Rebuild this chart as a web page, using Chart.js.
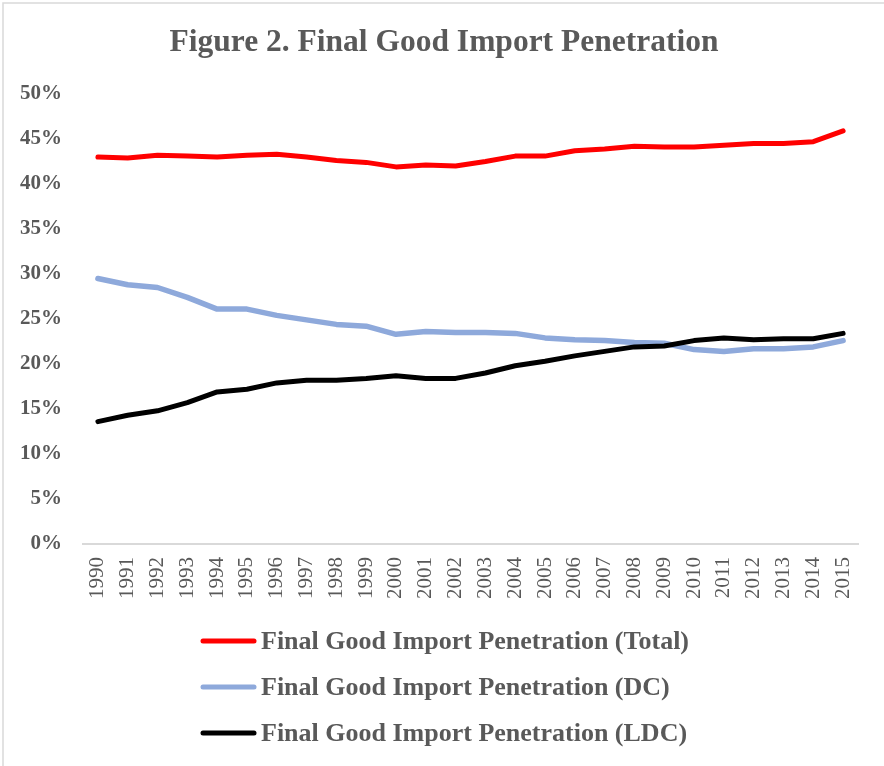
<!DOCTYPE html>
<html>
<head>
<meta charset="utf-8">
<script src="https://cdn.jsdelivr.net/npm/chart.js@4.4.1/dist/chart.umd.min.js"></script>
<style>
  html, body { margin: 0; padding: 0; background: #fff; }
  #wrap { width: 884px; height: 766px; position: relative; }
</style>
</head>
<body>
<div id="wrap"><canvas id="c" width="884" height="766"></canvas></div>
<script>
const years = ['1990','1991','1992','1993','1994','1995','1996','1997','1998','1999','2000','2001','2002','2003','2004','2005','2006','2007','2008','2009','2010','2011','2012','2013','2014','2015'];
const totalValues = [43.0, 42.9, 43.2, 43.1, 43.0, 43.2, 43.3, 43.0, 42.6, 42.4, 41.9, 42.1, 42.0, 42.5, 43.1, 43.1, 43.7, 43.9, 44.2, 44.1, 44.1, 44.3, 44.5, 44.5, 44.7, 45.9];
const dcValues = [29.5, 28.8, 28.5, 27.4, 26.1, 26.1, 25.4, 24.9, 24.4, 24.2, 23.3, 23.6, 23.5, 23.5, 23.4, 22.9, 22.7, 22.6, 22.4, 22.3, 21.6, 21.4, 21.7, 21.7, 21.9, 22.6];
const ldcValues = [13.6, 14.3, 14.8, 15.7, 16.9, 17.2, 17.9, 18.2, 18.2, 18.4, 18.7, 18.4, 18.4, 19.0, 19.8, 20.3, 20.9, 21.4, 21.9, 22.0, 22.6, 22.9, 22.7, 22.8, 22.8, 23.4];
const yTickLabels = ['0%','5%','10%','15%','20%','25%','30%','35%','40%','45%','50%'];
const seriesLabels = ['Final Good Import Penetration (Total)', 'Final Good Import Penetration (DC)', 'Final Good Import Penetration (LDC)'];
const titleText = 'Figure 2. Final Good Import Penetration';

const TEXT = '#595959';
const SERIF = "'Liberation Serif', 'Times New Roman', serif";

const frame = {
  id: 'frame',
  beforeDraw(chart) {
    const ctx = chart.ctx;
    ctx.save();
    ctx.fillStyle = '#fff';
    ctx.fillRect(0, 0, chart.width, chart.height);
    ctx.strokeStyle = '#d9d9d9';
    ctx.lineWidth = 1.5;
    ctx.beginPath();
    ctx.moveTo(3, chart.height);
    ctx.lineTo(3, 3);
    ctx.lineTo(chart.width, 3);
    ctx.stroke();
    ctx.restore();
  }
};

const headTitle = {
  id: 'headTitle',
  afterDraw(chart) {
    const ctx = chart.ctx;
    ctx.save();
    ctx.font = 'bold 31.5px ' + SERIF;
    ctx.fillStyle = TEXT;
    ctx.textAlign = 'center';
    ctx.textBaseline = 'middle';
    ctx.fillText(titleText, 444, 43);
    ctx.restore();
  }
};

const listLegend = {
  id: 'listLegend',
  afterDraw(chart) {
    const ctx = chart.ctx;
    ctx.save();
    ctx.font = 'bold 26px ' + SERIF;
    ctx.textBaseline = 'middle';
    ctx.textAlign = 'left';
    chart.data.datasets.forEach((ds, i) => {
      const y = 641 + i * 46;
      ctx.strokeStyle = ds.borderColor;
      ctx.lineWidth = 5;
      ctx.lineCap = 'round';
      ctx.beginPath();
      ctx.moveTo(203, y);
      ctx.lineTo(254, y);
      ctx.stroke();
      ctx.fillStyle = TEXT;
      ctx.fillText(ds.label, 261, y + 1);
    });
    ctx.restore();
  }
};

new Chart(document.getElementById('c'), {
  type: 'line',
  data: {
    labels: years,
    datasets: [
      { label: seriesLabels[0], data: totalValues, borderColor: '#FF0000', borderWidth: 5, order: 0 },
      { label: seriesLabels[1], data: dcValues, borderColor: '#8EA9DB', borderWidth: 5.5, order: 2 },
      { label: seriesLabels[2], data: ldcValues, borderColor: '#000000', borderWidth: 5, order: 1 }
    ]
  },
  options: {
    responsive: false,
    animation: false,
    events: [],
    elements: {
      point: { radius: 0 },
      line: { tension: 0, borderCapStyle: 'round', borderJoinStyle: 'round' }
    },
    layout: { padding: { left: 0, right: 26, top: 94, bottom: 162 } },
    plugins: {
      legend: { display: false },
      tooltip: { enabled: false },
      title: { display: false }
    },
    scales: {
      x: {
        offset: true,
        grid: { display: true, drawOnChartArea: false, drawTicks: false },
        border: { display: true, color: '#d9d9d9', width: 2 },
        ticks: {
          autoSkip: false,
          minRotation: 90,
          maxRotation: 90,
          padding: 13,
          color: TEXT,
          font: { family: SERIF, size: 21 }
        },
        afterFit(scale) { scale.height = 60; }
      },
      y: {
        min: 0,
        max: 50,
        grid: { display: false, drawTicks: false },
        border: { display: false },
        ticks: {
          stepSize: 5,
          padding: 21,
          color: TEXT,
          font: { family: SERIF, size: 21, weight: 'bold' },
          callback: (v, i) => yTickLabels[i]
        },
        afterFit(scale) { scale.width = 83; }
      }
    }
  },
  plugins: [frame, headTitle, listLegend]
});
</script>
</body>
</html>
